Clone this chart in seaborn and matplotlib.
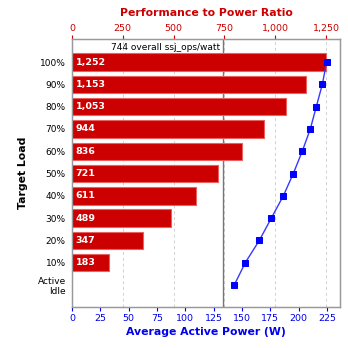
import numpy as np
import pandas as pd
import matplotlib
matplotlib.use("Agg")
import matplotlib.pyplot as plt
import seaborn as sns

loads = ["100%", "90%", "80%", "70%", "60%", "50%", "40%", "30%", "20%", "10%", "Active\nIdle"]
ratio = [1252, 1153, 1053, 944, 836, 721, 611, 489, 347, 183]
ratio_labels = ["1,252", "1,153", "1,053", "944", "836", "721", "611", "489", "347", "183"]
power = [224.7, 220.9, 215.6, 210.3, 203.2, 195.3, 186.5, 175.9, 165.3, 152.9, 143.2]
overall = 744
top_ticks = [0, 250, 500, 750, 1000, 1250]
top_ticklabels = ["0", "250", "500", "750", "1,000", "1,250"]
bottom_ticks = [0, 25, 50, 75, 100, 125, 150, 175, 200, 225]

sns.set_style("white")
plt.rcParams['font.family'] = ['DejaVu Sans']

RED = "#CC0000"
BLUE = "#0000EE"

fig = plt.figure(figsize=(3.48, 3.48), dpi=100)
ax = fig.add_axes([72/348, 1-307.3/348, (340.3-72.3)/348, (307.3-39.3)/348])

bar_df = pd.DataFrame({"load": loads[:len(ratio)], "ratio": ratio})
sns.barplot(data=bar_df, x="ratio", y="load", order=loads, orient="h", ax=ax,
            color=RED, saturation=1, width=0.78, edgecolor="#E86060", linewidth=0.8)
for p in ax.patches:
    p.set_zorder(4)

ax2 = ax.twiny()
line_df = pd.DataFrame({"power": power, "pos": np.arange(len(loads))})
sns.lineplot(data=line_df, x="power", y="pos", orient="y", sort=False, ax=ax2,
             color="#3838FF", linewidth=1.0, marker="s", markersize=5,
             markerfacecolor="#0000FF", markeredgecolor="#0000FF")

# top axis: performance to power ratio (bars)
ax.set_xlim(0, 1319)
ax.set_ylim(11, -1.02)
ax.xaxis.tick_top()
ax.xaxis.set_label_position("top")
ax.set_xticks(top_ticks)
ax.set_xticklabels(top_ticklabels)
ax.tick_params(axis="x", colors=RED, labelsize=6.8, length=3, width=0.8, pad=1.5,
               top=True, bottom=False, labeltop=True, labelbottom=False)
ax.tick_params(axis="y", colors="#333333", labelsize=6.5, length=3, width=0.8, pad=1.5)
for lbl in ax.get_yticklabels():
    lbl.set_color("black")
ax.set_xlabel("Performance to Power Ratio", color=RED, fontsize=7.8, fontweight="bold", labelpad=6)
ax.set_ylabel("Target Load", color="black", fontsize=7.8, fontweight="bold", labelpad=7)
ax.grid(axis="x", color="#d0d0d0", linestyle=(0, (3, 3)), linewidth=0.7, zorder=0)
ax.set_axisbelow(True)

for i, lab in enumerate(ratio_labels):
    ax.annotate(lab, xy=(0, i), xytext=(2.5, 0), textcoords="offset points",
                color="white", fontweight="bold", fontsize=6.8, va="center", ha="left",
                zorder=6)

ax.axvline(overall, color="#777777", linewidth=1.0, zorder=1.5)
ax.annotate(f"{overall} overall ssj_ops/watt", xy=(overall, -0.65), xytext=(-2, 0),
            textcoords="offset points", ha="right", va="center", fontsize=6.5, color="black")

# bottom axis: average active power (line)
ax2.set_xlim(0, 236.5)
ax2.set_ylim(11, -1.02)
ax2.xaxis.tick_bottom()
ax2.xaxis.set_label_position("bottom")
ax2.set_xticks(bottom_ticks)
ax2.tick_params(axis="x", colors=BLUE, labelsize=6.8, length=3, width=0.8, pad=1.5,
                top=False, bottom=True, labeltop=False, labelbottom=True)
ax2.set_xlabel("Average Active Power (W)", color=BLUE, fontsize=7.8, fontweight="bold", labelpad=3)
ax2.set_ylabel("")

for a in (ax, ax2):
    for s in a.spines.values():
        s.set_color("#999999")
        s.set_linewidth(0.9)

fig.savefig("out.png", dpi=100)
